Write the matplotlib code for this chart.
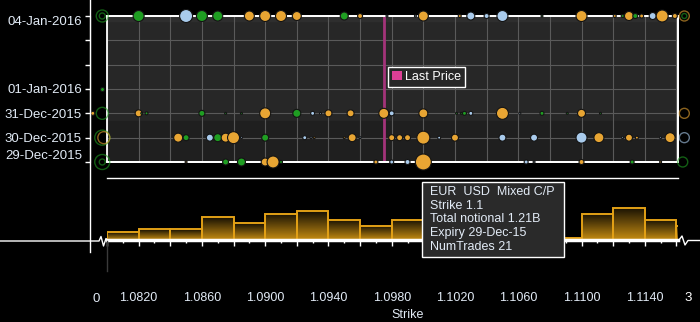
import numpy as np
import matplotlib
matplotlib.use('Agg')
import matplotlib.pyplot as plt
from matplotlib.patches import Rectangle, Patch
from matplotlib.lines import Line2D
from matplotlib.colors import LinearSegmentedColormap

plt.rcParams['font.family'] = ['Liberation Sans', 'DejaVu Sans']
plt.rcParams['font.size'] = 9

# expiry rows, counted in days after 29-Dec-2015
day_labels = ['29-Dec-2015', '30-Dec-2015', '31-Dec-2015', '01-Jan-2016', '', '', '04-Jan-2016']

# trades per expiry: strike, bubble diameter (px), type (C call, P put, M mixed)
jan04_strike = [1.0820, 1.0850, 1.0860, 1.0870, 1.0890, 1.0900, 1.0910, 1.0920, 1.0950, 1.0960,
                1.0977, 1.0995, 1.1000, 1.1023, 1.1030, 1.1040, 1.1050, 1.1075, 1.1100, 1.1121,
                1.1126, 1.1130, 1.1134, 1.1138, 1.1145, 1.1151, 1.1159]
jan04_size = [11, 13, 11, 10, 10, 11, 11, 9, 8, 5, 2, 2, 10, 3, 8, 5, 11, 2, 11, 3, 3, 9, 5, 4, 7, 12, 5]
jan04_type = 'CPCCMMMMCMPPMMPPPCMMCMCMPMM'

jan01_strike = [1.0797]
jan01_size = [4]
jan01_type = 'C'

dec31_strike = [1.0791, 1.0820, 1.0822, 1.0825, 1.0860, 1.0875, 1.0885, 1.0900, 1.0920, 1.0930,
                1.0935, 1.0940, 1.0954, 1.0975, 1.0980, 1.1000, 1.1021, 1.1024, 1.1026, 1.1030,
                1.1050, 1.1061, 1.1075, 1.1091, 1.1100, 1.1112]
dec31_size = [4, 7, 2, 3, 6, 2, 2, 11, 8, 4, 2, 7, 7, 10, 5, 9, 2, 2, 4, 4, 12, 2, 4, 2, 8, 2]
dec31_type = 'MMCCCCCMCPPMMMPMCCCPMPCCMC'

dec30_strike = [1.0845, 1.0850, 1.0865, 1.0870, 1.0875, 1.0880, 1.0885, 1.0900, 1.0925, 1.0929,
                1.0931, 1.0950, 1.0955, 1.0960, 1.0980, 1.0985, 1.0990, 1.1000, 1.1010, 1.1020,
                1.1050, 1.1070, 1.1100, 1.1111, 1.1126, 1.1130, 1.1135, 1.1150, 1.1156]
dec30_size = [9, 6, 7, 8, 9, 12, 2, 7, 4, 2, 2, 2, 8, 2, 6, 6, 6, 13, 3, 7, 7, 7, 11, 10, 2, 7, 3, 2, 10]
dec30_type = 'MCPCMMPCPPMMMPMMMMPMPPPMPMMPM'

dec29_strike = [1.0850, 1.0875, 1.0885, 1.0900, 1.0905, 1.0910, 1.0970, 1.0980, 1.0990, 1.1000,
                1.1065, 1.1070, 1.1100, 1.1132, 1.1150]
dec29_size = [2, 6, 8, 8, 12, 3, 4, 4, 5, 16, 4, 2, 5, 4, 2]
dec29_type = 'MCCMMCMPPMPPMCM'

# off-scale clusters drawn as rings beyond the strike range
ring_strike = [1.0797, 1.0797, 1.0797, 1.0797, 1.0798, 1.0797, 1.0797,
               1.1165, 1.1165, 1.1165, 1.1165, 1.1164]
ring_day = [6, 6, 2, 1, 1, 0, 0, 6, 6, 2, 1, 0]
ring_size = [12, 6, 12, 15, 12, 15, 6, 10, 5, 10, 10, 10]
ring_type = 'CCCCMCCMCMPC'

last_price = 1.0975

# notional per 0.002 strike bucket
bin_start = np.arange(1.080, 1.1175, 0.002)
hist_notional = [0.37, 0.51, 0.51, 1.11, 0.82, 1.26, 1.40, 0.97, 0.68, 0.97,
                 1.94, 0.87, 1.16, 0.77, 0.10, 1.26, 1.55, 0.97, 0.68]

strike_labels = [1.082, 1.086, 1.090, 1.094, 1.098, 1.102, 1.106, 1.110, 1.114]

tooltip_lines = ['EUR  USD  Mixed C/P', 'Strike 1.1', 'Total notional 1.21B',
                 'Expiry 29-Dec-15', 'NumTrades 21']

type_color = {'C': '#1f9e22', 'P': '#a9cbec', 'M': '#e8a533'}
txt_color = '#e2ebf6'
W, H = 700, 322


def fx(px):
    return px / W


def fy(py):
    return 1 - py / H


fig = plt.figure(figsize=(7, 3.22), dpi=100, facecolor='black')

# ---- bubble panel ----
ax = fig.add_axes([fx(107), fy(162), fx(571), 146 / H], facecolor='#272727')
ax.set_xlim(1.0800, 1.1161)
ax.set_ylim(0, 6)
ax.axhspan(0, 1.685, color='#1f1f1f', zorder=0)
ax.axhspan(5.79, 6, color='#2e2e2e', zorder=0)
ax.set_axisbelow(True)
ax.set_xticks(np.arange(1.080, 1.1161, 0.002))
ax.set_yticks(range(7))
ax.grid(True, color='#5a5a5a', linewidth=0.8)
ax.tick_params(axis='x', length=0, labelbottom=False)
for s in ['top', 'right', 'bottom']:
    ax.spines[s].set_color('white')
    ax.spines[s].set_linewidth(1.3)
ax.spines['left'].set_position(('axes', -17 / 571))
ax.spines['left'].set_color('white')
ax.add_patch(Rectangle((0, 0), 1, 1, transform=ax.transAxes, fill=False,
                       edgecolor='white', linewidth=1.3, zorder=2.6, clip_on=False))
ax.set_yticklabels(day_labels)
ax.tick_params(axis='y', colors='white', length=3.6, width=1, pad=2.2, labelcolor=txt_color,
               labelsize=9.5)
tl = ax.get_yticklabels()
tl[6].set_va('top')
tl[0].set_va('bottom')

ax.axvline(last_price, color='#a3347a', linewidth=2, zorder=1)

rows = [(0, dec29_strike, dec29_size, dec29_type),
        (1, dec30_strike, dec30_size, dec30_type),
        (2, dec31_strike, dec31_size, dec31_type),
        (3, jan01_strike, jan01_size, jan01_type),
        (6, jan04_strike, jan04_size, jan04_type)]
for day, strikes, sizes, types in rows:
    ax.scatter(strikes, [day] * len(strikes), s=[(d * 0.72) ** 2 for d in sizes],
               c=[type_color[t] for t in types], edgecolors='#141414', linewidths=0.8,
               zorder=4, clip_on=False)

ax.scatter(ring_strike, ring_day, s=[(d * 0.72) ** 2 for d in ring_size],
           facecolors='none', edgecolors=[type_color[t] for t in ring_type],
           linewidths=1.0, zorder=4, clip_on=False, alpha=0.6)

leg = ax.legend(handles=[Patch(facecolor='#dd3f95', label='Last Price')],
                loc='upper left', bbox_to_anchor=(0.492, 0.651), frameon=True,
                fancybox=False, borderpad=0.3, handlelength=0.8, handleheight=0.8,
                handletextpad=0.25, borderaxespad=0, fontsize=9, labelcolor='white')
leg.get_frame().set_facecolor('#272727')
leg.get_frame().set_edgecolor('white')
leg.get_frame().set_linewidth(1)
leg.get_frame().set_alpha(1)

# ---- notional histogram ----
axh = fig.add_axes([fx(107), fy(240), fx(571), 62 / H], facecolor='black')
cmap = LinearSegmentedColormap.from_list('bar', ['#c58c12', '#161003'])
grad = np.linspace(0, 1, 64).reshape(-1, 1)
for x0, h in zip(bin_start, hist_notional):
    axh.imshow(grad, extent=[x0, x0 + 0.002, 0, h], origin='lower', cmap=cmap,
               aspect='auto', zorder=1)
axh.bar(bin_start, hist_notional, width=0.002, align='edge', fill=False,
        edgecolor='#e2a016', linewidth=1.4, zorder=2)
axh.set_xlim(1.0800, 1.1161)
axh.set_ylim(0, 3)
axh.spines['left'].set_visible(False)
axh.spines['right'].set_visible(False)
axh.spines['top'].set_color('white')
axh.spines['top'].set_linewidth(1)
axh.spines['bottom'].set_color('white')
axh.spines['bottom'].set_linewidth(2.5)
axh.set_yticks([])
major = np.arange(1.080, 1.1161, 0.002)
axh.set_xticks(major)
axh.set_xticklabels(['%.4f' % m if any(abs(m - s) < 1e-6 for s in strike_labels) else ''
                     for m in major])
axh.set_xticks(np.arange(1.081, 1.1161, 0.002), minor=True)
axh.tick_params(axis='x', which='major', colors='white', length=4.3, width=1, pad=33,
                labelcolor=txt_color, labelsize=9)
axh.tick_params(axis='x', which='minor', colors='white', length=2.2, width=1)

# broken-axis marks and frame lines
fig.add_artist(Line2D([fx(90), fx(90)], [fy(0), fy(252)], color='white', linewidth=1))
fig.add_artist(Line2D([fx(0), fx(99), fx(101), fx(103.5), fx(106), fx(107)],
                      [fy(241), fy(241), fy(236.5), fy(246), fy(238.5), fy(240)],
                      color='white', linewidth=1))
fig.add_artist(Line2D([fx(679), fx(682), fx(685), fx(688), fx(700)],
                      [fy(240), fy(236), fy(245), fy(240.5), fy(240.5)],
                      color='white', linewidth=1))
fig.add_artist(Line2D([fx(106.7), fx(106.7)], [fy(241), fy(271)], color='#3a3a3a', linewidth=1))

fig.text(fx(96), fy(299), '0', color=txt_color, ha='center', va='center', fontsize=9.5)
fig.text(fx(688), fy(298), '3', color='white', ha='center', va='center', fontsize=9.5)
fig.text(fx(408), fy(315), 'Strike', color=txt_color, ha='center', va='center', fontsize=9)

# hover tooltip
fig.add_artist(Rectangle((fx(422), fy(257)), fx(142), 75 / H, transform=fig.transFigure,
                         facecolor='#2a2a2a', edgecolor='white', linewidth=1, zorder=5))
for i, line in enumerate(tooltip_lines):
    fig.text(fx(430), fy(191.7 + i * 13.9), line, color=txt_color, ha='left', va='center',
             fontsize=9, zorder=6)

fig.savefig('out.png', dpi=100, facecolor='black')
